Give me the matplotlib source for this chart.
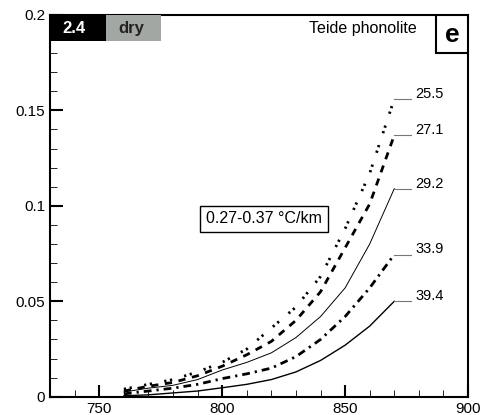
import matplotlib
matplotlib.use("Agg")
import matplotlib.pyplot as plt
from matplotlib.patches import Rectangle

plt.rcParams['font.family'] = ['Liberation Sans', 'DejaVu Sans']

# temperature (x) and curves labelled by their values
temp = [760, 770, 780, 790, 800, 810, 820, 830, 840, 850, 860, 870]
labels = ["25.5", "27.1", "29.2", "33.9", "39.4"]
c255 = [0.004, 0.0065, 0.009, 0.013, 0.018, 0.025, 0.036, 0.047, 0.063, 0.088, 0.117, 0.156]
c271 = [0.003, 0.0055, 0.0075, 0.011, 0.016, 0.022, 0.029, 0.040, 0.055, 0.078, 0.101, 0.137]
c292 = [0.0025, 0.0045, 0.006, 0.009, 0.014, 0.018, 0.023, 0.031, 0.042, 0.057, 0.080, 0.109]
c339 = [0.0015, 0.003, 0.0045, 0.0065, 0.0095, 0.012, 0.015, 0.021, 0.030, 0.042, 0.057, 0.0745]
c394 = [0.0005, 0.001, 0.002, 0.003, 0.0047, 0.0065, 0.009, 0.013, 0.019, 0.027, 0.037, 0.050]
curves = [c255, c271, c292, c339, c394]

styles = [
    dict(ls=(0, (0.8, 1.3, 0.8, 4.5)), lw=2.0),
    dict(ls=(0, (2.6, 2.4)), lw=2.0),
    dict(ls='-', lw=0.7),
    dict(ls=(0, (2.8, 1.8, 0.8, 1.8)), lw=2.0),
    dict(ls='-', lw=1.0),
]

fig = plt.figure(figsize=(4.87, 4.15), dpi=100)
ax = fig.add_axes([0.103, 0.044, 0.858, 0.92])

for ys, lab, st in zip(curves, labels, styles):
    ax.plot(temp, ys, color='black', **st)
    ax.plot([temp[-1], 877], [ys[-1], ys[-1]], color='#777777', lw=0.8)
    ax.text(878.5, ys[-1] - 0.001, lab, fontsize=10.5, va='bottom', ha='left')

ax.set_xlim(730, 900)
ax.set_ylim(0, 0.2)
ax.set_xticks([750, 800, 850, 900])
ax.set_yticks([0, 0.05, 0.1, 0.15, 0.2])
ax.set_yticklabels(["0", "0.05", "0.1", "0.15", "0.2"])
ax.set_xticks(range(740, 900, 10), minor=True)
ax.set_yticks([i * 0.01 for i in range(1, 20)], minor=True)
ax.tick_params(which='both', direction='in', top=False, right=False, labelsize=11)
ax.tick_params(which='major', length=9, width=1.5)
ax.tick_params(which='minor', length=5, width=0.6)
for s in ax.spines.values():
    s.set_linewidth(1.5)

# header boxes
ax.add_patch(Rectangle((0, 0.9315), 0.133, 0.0685, transform=ax.transAxes,
                       facecolor='black', edgecolor='none', zorder=5))
ax.add_patch(Rectangle((0.133, 0.9315), 0.133, 0.0685, transform=ax.transAxes,
                       facecolor='#a3a7a3', edgecolor='none', zorder=5))
ax.text(0.029, 0.965, "2.4", transform=ax.transAxes, color='white', fontsize=12,
        fontweight='bold', va='center', ha='left', zorder=6)
ax.text(0.163, 0.965, "dry", transform=ax.transAxes, color='#222222', fontsize=12,
        fontweight='bold', va='center', ha='left', zorder=6)
ax.text(0.878, 0.965, "Teide phonolite", transform=ax.transAxes, fontsize=11.5,
        va='center', ha='right')
ax.add_patch(Rectangle((0.924, 0.9), 0.076, 0.1, transform=ax.transAxes,
                       facecolor='white', edgecolor='black', lw=1.5, zorder=5))
ax.text(0.962, 0.948, "e", transform=ax.transAxes, fontsize=19, fontweight='bold',
        va='center', ha='center', zorder=6)

ax.text(817, 0.0933, "0.27-0.37 °C/km", fontsize=11.5, ha='center', va='center',
        bbox=dict(boxstyle='square,pad=0.35', facecolor='white', edgecolor='black', lw=1.0))

fig.savefig("out.png", dpi=100)
